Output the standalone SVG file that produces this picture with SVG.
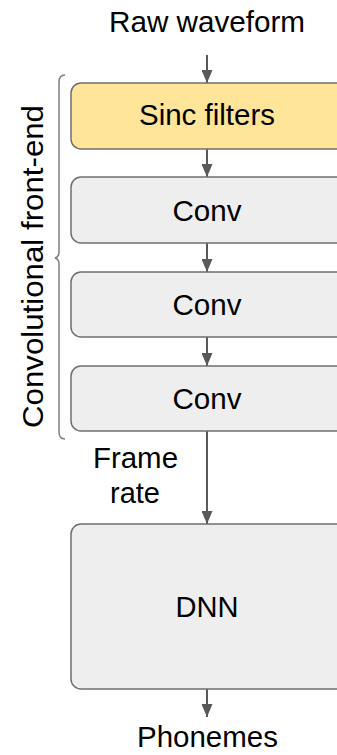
<svg xmlns="http://www.w3.org/2000/svg" width="337" height="755" viewBox="0 0 337 755">
<defs>
<style>
.t{font-family:"Liberation Sans",Arial,sans-serif;font-size:29px;fill:#000;text-anchor:middle}
.box{stroke:#6f6f6f;stroke-width:1.5}
.grey{fill:#eeeeee}
.yellow{fill:#ffe599}
.conn{stroke:#595959;stroke-width:2;fill:none}
.brace{stroke:#7f7f7f;stroke-width:1.5;fill:none}
</style>
<marker id="ahs" viewBox="0 0 13 11" refX="13" refY="5.5" markerWidth="13" markerHeight="11" markerUnits="userSpaceOnUse" orient="auto">
<path d="M0,0 L13,5.5 L0,11 Z" fill="#595959"/>
</marker>
</defs>
<rect width="337" height="755" fill="#ffffff"/>

<g id="input-label"><text class="t" x="207" y="32" textLength="196" lengthAdjust="spacingAndGlyphs">Raw waveform</text></g>

<g id="brace-label">
<path class="brace" d="M65,75 Q59,75 59,82 L59,252 Q59,257 55,258 Q59,259 59,264 L59,432 Q59,439 65,439"/>
<text class="t" transform="translate(43,266.5) rotate(-90)" x="0" y="0" textLength="323" lengthAdjust="spacingAndGlyphs">Convolutional front-end</text>
</g>

<g id="connectors">
<line class="conn" x1="207" y1="55" x2="207" y2="83" marker-end="url(#ahs)"/>
<line class="conn" x1="207" y1="149" x2="207" y2="177" marker-end="url(#ahs)"/>
<line class="conn" x1="207" y1="243" x2="207" y2="272" marker-end="url(#ahs)"/>
<line class="conn" x1="207" y1="337" x2="207" y2="366" marker-end="url(#ahs)"/>
<line class="conn" x1="207" y1="431" x2="207" y2="524" marker-end="url(#ahs)"/>
<line class="conn" x1="207" y1="689" x2="207" y2="717" marker-end="url(#ahs)"/>
</g>

<g id="sinc"><rect class="box yellow" x="71" y="83" width="290" height="66" rx="10"/><text class="t" x="207" y="125" textLength="136" lengthAdjust="spacingAndGlyphs">Sinc filters</text></g>
<g id="conv1"><rect class="box grey" x="71" y="177" width="290" height="66" rx="10"/><text class="t" x="207" y="221" textLength="69" lengthAdjust="spacingAndGlyphs">Conv</text></g>
<g id="conv2"><rect class="box grey" x="71" y="272" width="290" height="65" rx="10"/><text class="t" x="207" y="315" textLength="69" lengthAdjust="spacingAndGlyphs">Conv</text></g>
<g id="conv3"><rect class="box grey" x="71" y="366" width="290" height="65" rx="10"/><text class="t" x="207" y="409" textLength="69" lengthAdjust="spacingAndGlyphs">Conv</text></g>

<g id="frame-rate-label">
<text class="t" x="135.5" y="468" textLength="85" lengthAdjust="spacingAndGlyphs">Frame</text>
<text class="t" x="135" y="503" textLength="50" lengthAdjust="spacingAndGlyphs">rate</text>
</g>

<g id="dnn"><rect class="box grey" x="71" y="524" width="290" height="165" rx="10"/><text class="t" x="207" y="617" textLength="63" lengthAdjust="spacingAndGlyphs">DNN</text></g>

<g id="output-label"><text class="t" x="207.5" y="747" textLength="141" lengthAdjust="spacingAndGlyphs">Phonemes</text></g>
</svg>
